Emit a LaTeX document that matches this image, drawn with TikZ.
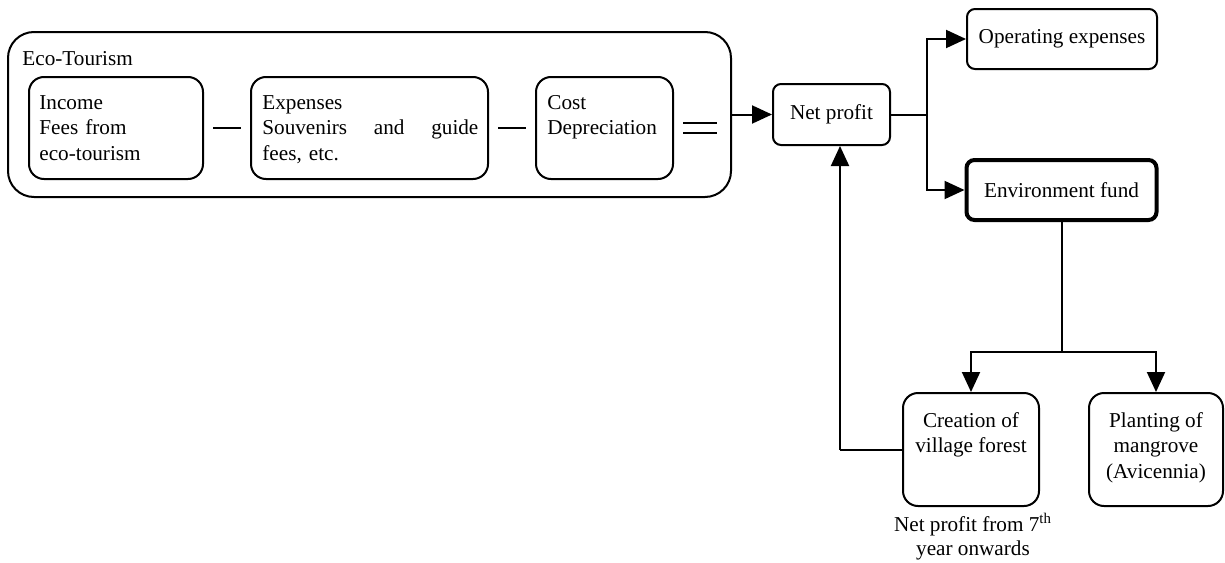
\documentclass[tikz,border=0pt]{standalone}
\usepackage{fontspec}
\setmainfont{Liberation Serif}
\usetikzlibrary{arrows.meta}
\begin{document}
\begin{tikzpicture}[x=0.5pt,y=-0.5pt,
  every node/.style={font=\fontsize{10.6}{12.75}\selectfont},
  box/.style={draw, line width=1pt, rounded corners=#1, inner sep=0pt},
  box/.default=7.5pt,
  txt/.style={inner sep=0pt, align=left, text width=#1},
  ctxt/.style={inner sep=0pt, align=center},
  conn/.style={line width=1pt},
  arr/.style={line width=1pt, -{Triangle[length=10pt,width=9pt]}},
]
\useasboundingbox (0,0) rectangle (1225,562);

% eco-tourism group
\node[box=13pt, minimum width=361.5pt, minimum height=82.5pt] (eco) at (369.5,114.5) {};
\node[inner sep=0pt, anchor=north west] (ecolbl) at (22,51) {Eco-Tourism};

\node[box, minimum width=87pt, minimum height=51pt] (inc) at (116,128) {};
\node[txt=80pt, anchor=north west] (inctxt) at (39,95) {Income\\Fees from\\eco-tourism};

\node[box, minimum width=118.5pt, minimum height=51pt] (exp) at (369.5,128) {};
\node[txt=108pt, anchor=north west] (exptxt) at (262,95) {Expenses\\Souvenirs \hfill and \hfill guide\\fees, etc.};

\node[box, minimum width=68.5pt, minimum height=51pt] (cost) at (604.5,128) {};
\node[txt=60pt, anchor=north west] (costtxt) at (547,95) {Cost\\Depreciation};

% profit and its uses
\node[box=4pt, minimum width=58.5pt, minimum height=30.5pt] (net) at (831.5,114.5) {Net profit};
\node[box=4pt, minimum width=95pt, minimum height=30pt] (opex) at (1062,39) {Operating expenses};
\node[box=4pt, line width=2pt, minimum width=95pt, minimum height=30pt] (env) at (1061.5,190) {Environment fund};

\node[box, minimum width=68pt, minimum height=56.5pt] (cre) at (971,449.5) {};
\node[ctxt, anchor=north] (cretxt) at (971,412) {Creation of\\village forest};
\node[box, minimum width=67pt, minimum height=56.5pt] (pla) at (1156,449.5) {};
\node[ctxt, anchor=north] (platxt) at (1156,412) {Planting of\\mangrove\\(Avicennia)};
\node[ctxt, anchor=north, font=\fontsize{10.6}{12}\selectfont] (note) at (973,513) {Net profit from 7\textsuperscript{th}\\year onwards};

% connectors
\draw[conn, shorten <=4.5pt, shorten >=4.5pt] (inc) -- (exp);
\draw[conn, shorten <=4.5pt, shorten >=4.5pt] (exp) -- (cost);
\draw[conn, double, double distance=3.7pt, shorten <=4.5pt, shorten >=7.5pt] (cost.east) -- (cost.east -| eco.east);
\draw[arr] (eco) -- (net);

\coordinate (split) at (927,114.5);
\draw[conn] (net.east) -- (split);
\draw[arr] (split) |- (opex.west);
\draw[arr] (split) |- (env.west);

\coordinate (fork) at (1061.5,352);
\draw[conn] (env.south) -- (fork);
\draw[arr] (fork) -| (cre.north);
\draw[arr] (fork) -| (pla.north);

\coordinate (back) at (840,449.5);
\draw[conn] (cre.west) -- (back);
\draw[arr] (back) -- (back |- net.south);
\end{tikzpicture}
\end{document}
